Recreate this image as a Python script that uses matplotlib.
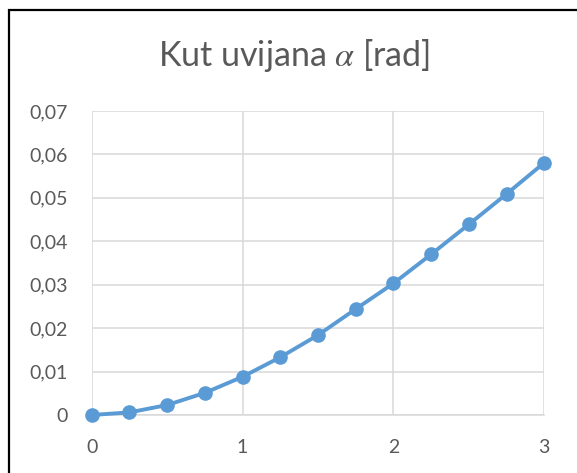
import numpy as np
import matplotlib
matplotlib.use("Agg")
import matplotlib.pyplot as plt
from matplotlib.patches import Rectangle
from matplotlib.ticker import FuncFormatter, MultipleLocator

# twist angle along the beam
x_pos = [0, 0.25, 0.5, 0.75, 1.0, 1.25, 1.5, 1.75, 2.0, 2.25, 2.5, 2.75, 3.0]
alpha = [0.0, 0.0006, 0.0023, 0.0051, 0.0088, 0.0133, 0.0184,
         0.0244, 0.0303, 0.0370, 0.0439, 0.0509, 0.0581]

title_text = r"Kut uvijana $\alpha$ [rad]"
line_color = "#5B9BD5"
text_color = "#595959"
grid_color = "#D9D9D9"

plt.rcParams["font.family"] = ["Lato", "DejaVu Sans"]
plt.rcParams["mathtext.fontset"] = "stix"

fig = plt.figure(figsize=(5.77, 4.73), dpi=100)
ax = fig.add_axes([0.1589, 0.1226, 0.7844, 0.6427])

ax.plot(x_pos, alpha, color=line_color, linewidth=2.8, marker="o",
        markersize=9.5, zorder=3, clip_on=False)

ax.set_xlim(0, 3)
ax.set_ylim(0, 0.07)
ax.xaxis.set_major_locator(MultipleLocator(1))
ax.yaxis.set_major_locator(MultipleLocator(0.01))

def comma_fmt(v, pos):
    if abs(v) < 1e-9:
        return "0"
    return f"{v:.2f}".replace(".", ",")

ax.yaxis.set_major_formatter(FuncFormatter(comma_fmt))
ax.xaxis.set_major_formatter(FuncFormatter(lambda v, p: f"{v:.0f}"))

ax.grid(True, color=grid_color, linewidth=1.1)
ax.set_axisbelow(True)
for side in ("top", "right", "left"):
    ax.spines[side].set_visible(False)
ax.spines["bottom"].set_color(grid_color)
ax.spines["bottom"].set_linewidth(1.1)

ax.tick_params(axis="both", length=0, labelsize=14, labelcolor=text_color)
ax.tick_params(axis="y", pad=17)
ax.tick_params(axis="x", pad=17)

fig.text(0.51, 1 - 66 / 473, title_text, ha="center", va="baseline",
         fontsize=24.5, color=text_color)

# chart border
fig.patches.append(Rectangle((9 / 577, -0.05), 1.1, 1 - 10 / 473 + 0.05,
                             transform=fig.transFigure, fill=False,
                             edgecolor="black", linewidth=1.6))

fig.savefig("out.png", dpi=100)
